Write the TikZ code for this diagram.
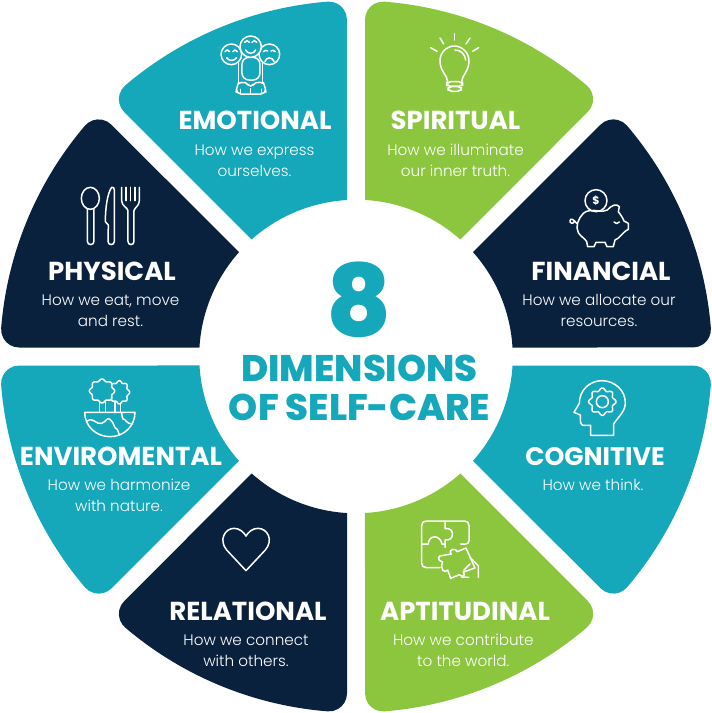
\documentclass[tikz,border=0pt]{standalone}
\usepackage{fontspec}
\newfontfamily\headfont{Poppins Bold}
\newfontfamily\heavyfont{Poppins ExtraBold}
\newfontfamily\bodyfont{Poppins Light}
\definecolor{teal}{HTML}{15A7BA}
\definecolor{leaf}{HTML}{8CC63F}
\definecolor{navy}{HTML}{0A213D}
\tikzset{
  headtext/.style={text=white,anchor=base,inner sep=0pt,font=\headfont\fontsize{26}{26}\selectfont},
  bodytext/.style={text=white,anchor=north,inner sep=0pt,align=center,font=\bodyfont\fontsize{15.2}{21.2}\selectfont},
  centretext/.style={text=teal,anchor=base,inner sep=0pt,font=\heavyfont\fontsize{37}{37}\selectfont},
  iconline/.style={draw=white,line width=1.5pt,line cap=round,line join=round},
  iconzoom/.style={x=0.33333pt,y=-0.33333pt,shift={#1}}
}
\newcommand{\wedgeseg}[2]{%
  \fill[#2,y=1pt,shift={(356pt,-356.5pt)},rotate=#1]
    (9,156.74) -- (9,336.9)
    arc[start angle=180,end angle=85.42,radius=18]
    arc[start angle=85.42,end angle=49.59,radius=356]
    arc[start angle=49.59,end angle=-45,radius=18]
    -- (104.3,117)
    arc[start angle=48.28,end angle=86.71,radius=157] -- cycle;}
\newcommand{\bodylines}[5]{\node[bodytext] (#1) at (#2,#3-12) {\rule{0pt}{12pt}#4\\#5};}
\begin{document}
\begin{tikzpicture}[x=1pt,y=-1pt]
\useasboundingbox (0,0) rectangle (712,713);
\wedgeseg{0}{leaf}
\wedgeseg{-45}{navy}
\wedgeseg{-90}{teal}
\wedgeseg{-135}{leaf}
\wedgeseg{-180}{navy}
\wedgeseg{-225}{teal}
\wedgeseg{-270}{navy}
\wedgeseg{-315}{teal}

% centre
\node[centretext,font=\heavyfont\fontsize{100}{100}\selectfont,text height=70pt,text depth=0pt] (eight) at (359,336) {8};
\node[centretext] (dim) at (359.5,381.7) {DIMENSIONS};
\node[centretext] (care) at (359.5,420) {OF SELF-CARE};

% headings and descriptions
\node[headtext] (h1) at (255,129.8) {EMOTIONAL};
\bodylines{b1}{254.5}{155}{How we express}{ourselves.}
\node[headtext] (h2) at (455.5,129.8) {SPIRITUAL};
\bodylines{b2}{455.5}{155}{How we illuminate}{our inner truth.}
\node[headtext] (h3) at (112,280) {PHYSICAL};
\bodylines{b3}{110.5}{305}{How we eat, move}{and rest.}
\node[headtext] (h4) at (601,280) {FINANCIAL};
\bodylines{b4}{599}{305}{How we allocate our}{resources.}
\node[headtext] (h5) at (121,465) {ENVIROMENTAL};
\bodylines{b5}{119}{490}{How we harmonize}{with nature.}
\node[headtext,font=\headfont\fontsize{25.3}{26}\selectfont] (h6) at (595,465) {COGNITIVE};
\node[bodytext] (b6) at (593,478) {\rule{0pt}{12pt}How we think.};
\node[headtext] (h7) at (465,620) {APTITUDINAL};
\bodylines{b7}{463.3}{645}{How we contribute}{to the world.}
\node[headtext] (h8) at (248,620) {RELATIONAL};
\bodylines{b8}{246}{645}{How we connect}{with others.}

% Emotional icon
\begin{scope}[iconzoom={(110pt,0pt)},iconline]
\draw (364,163) circle[radius=31];
\draw (478,163) circle[radius=31];
\draw (385,190) -- (385,250);
\draw (458,190) -- (458,250);
\filldraw[fill=teal,rounded corners=7pt] (396,172) rectangle (450,240);
\filldraw[fill=teal] (422,140) circle[radius=32];
\draw (404,127) .. controls (408,120) and (414,120) .. (418,127);
\draw (426,127) .. controls (430,120) and (436,120) .. (440,127);
\draw (407,150) .. controls (412,163) and (432,163) .. (437,150);
\draw (345,155) .. controls (349,148) and (355,148) .. (359,155);
\draw (368,155) .. controls (372,148) and (378,148) .. (382,155);
\draw (350,173) .. controls (356,184) and (372,184) .. (380,173);
\draw (460,155) .. controls (465,150) and (470,150) .. (473,153);
\draw (483,153) .. controls (486,150) and (491,150) .. (496,155);
\draw (465,184) .. controls (470,170) and (486,170) .. (492,184);
\draw[rounded corners=5pt] (378,282) -- (380,262) .. controls (384,252) and (395,247) .. (408,243) -- (422,266) -- (436,243) .. controls (450,247) and (462,252) .. (466,262) -- (468,282) -- cycle;
\draw (392,282) -- (392,268);
\draw (455,282) -- (455,268);
\draw (422,266) -- (422,282);
\end{scope}

% Spiritual icon
\begin{scope}[iconzoom={(360pt,0pt)},iconline]
\draw (263,245) .. controls (262,225) and (240,215) .. (240,182)
      .. controls (240,158) and (260,138) .. (283,138)
      .. controls (306,138) and (327,158) .. (327,182)
      .. controls (327,215) and (306,225) .. (305,245);
\draw[rounded corners=4pt] (260,245) rectangle (308,259);
\draw[rounded corners=4pt] (264,259) rectangle (304,274);
\draw (285,150) .. controls (302,150) and (315,162) .. (317,180);
\draw (283,101) -- (283,120);
\draw (240,114) -- (251,132);
\draw (330,114) -- (318,132);
\draw (212,143) -- (231,154);
\draw (356,143) -- (338,154);
\end{scope}

% Physical icon
\begin{scope}[iconzoom={(0pt,-110pt)},iconline]
\draw (271,265) ellipse[x radius=27,y radius=33];
\draw (262,298) -- (262,394) .. controls (262,407) and (282,407) .. (282,394) -- (282,298);
\draw (325,345) -- (316,335) .. controls (316,295) and (322,250) .. (335,232) .. controls (340,230) and (343,234) .. (343,240) -- (343,394) .. controls (343,407) and (324,407) .. (324,394) -- cycle;
\draw (365,232) -- (365,272) .. controls (365,288) and (382,292) .. (384,302) -- (384,394) .. controls (384,407) and (402,407) .. (402,394) -- (402,302) .. controls (404,292) and (418,288) .. (418,272) -- (418,232);
\draw (378,232) -- (378,272) (391,232) -- (391,272) (405,232) -- (405,272);
\end{scope}

% Financial icon
\begin{scope}[iconzoom={(470pt,-110pt)},iconline]
\draw (378,272) circle[radius=33];
\node[text=white,inner sep=0pt,font=\headfont\fontsize{11}{11}\selectfont] (dollar) at (378,272) {\$};
\draw (340,310) .. controls (325,325) and (315,350) .. (325,368)
      .. controls (332,380) and (345,385) .. (350,395)
      -- (353,410) -- (372,410) -- (378,397) -- (405,397) -- (411,410) -- (430,410) -- (435,390)
      .. controls (450,385) and (455,368) .. (475,358) -- (475,340) -- (462,333)
      .. controls (458,322) and (450,312) .. (445,305)
      -- (448,290) .. controls (440,280) and (425,285) .. (412,300)
      .. controls (405,305) and (395,303) .. (385,303) .. controls (370,300) and (350,300) .. (340,310);
\draw (432,336) .. controls (436,342) and (444,342) .. (448,336);
\draw (320,340) .. controls (312,330) and (302,322) .. (300,332) .. controls (298,340) and (310,342) .. (312,336);
\end{scope}

% Cognitive icon
\begin{scope}[iconzoom={(470pt,-360pt)},iconline]
\draw (362,226) -- (362,196) -- (340,196) .. controls (332,196) and (330,185) .. (331,165) -- (312,157) -- (328,130)
      .. controls (328,90) and (360,62) .. (395,62)
      .. controls (435,62) and (466,92) .. (466,128)
      .. controls (466,155) and (445,170) .. (431,192) -- (431,226) -- cycle;
\draw plot[domain=0:360,samples=145,smooth] ({397+(37+4*cos(8*\x))*cos(\x)},{125+(37+4*cos(8*\x))*sin(\x)}) -- cycle;
\draw (397,125) circle[radius=18];
\end{scope}

% Enviromental icon
\begin{scope}[iconzoom={(0pt,-360pt)},iconline]
\draw (254,157) -- (405,157) .. controls (405,198) and (372,230) .. (330,230) .. controls (288,230) and (254,198) .. (254,157);
\draw (262,183) .. controls (280,170) and (288,195) .. (305,190) .. controls (320,185) and (320,170) .. (330,178) .. controls (345,190) and (340,205) .. (352,208) -- (358,224);
\draw (365,160) -- (368,176) .. controls (380,178) and (375,190) .. (398,192);
\draw (345,125) -- (345,157) (362,125) -- (362,157);
\draw[fill=teal] plot[domain=0:360,samples=121,smooth] ({358+(28+3*cos(8*\x))*cos(\x)},{97+(32+3*cos(8*\x))*sin(\x)}) -- cycle;
\draw (298,125) -- (298,157) (316,125) -- (316,157);
\draw[fill=teal] plot[domain=0:360,samples=121,smooth] ({306+(35+3*cos(8*\x))*cos(\x)},{93+(33+3*cos(8*\x))*sin(\x)}) -- cycle;
\end{scope}

% Relational icon
\begin{scope}[iconzoom={(110pt,-470pt)},iconline]
\draw (408,302) -- (350,240) .. controls (325,210) and (345,175) .. (372,175) .. controls (388,175) and (400,185) .. (408,198)
      .. controls (416,185) and (428,175) .. (444,175) .. controls (472,175) and (492,210) .. (466,240) -- cycle;
\end{scope}

% Aptitudinal icon
\begin{scope}[iconzoom={(360pt,-470pt)},iconline]
\draw (240,293) -- (199,293) .. controls (190,293) and (185,288) .. (185,279) -- (185,167) .. controls (185,158) and (190,153) .. (199,153) -- (313,153) .. controls (322,153) and (327,158) .. (327,167) -- (327,212) .. controls (327,219) and (322,222) .. (316,222) -- (302,222);
\draw (255,153) -- (255,176) .. controls (285,170) and (285,215) .. (255,210) -- (255,232);
\draw (185,222) -- (205,222) .. controls (205,195) and (240,192) .. (246,222) -- (255,222);
\draw (250,256) -- (274,252) .. controls (262,238) and (288,232) .. (292,245) -- (318,234) -- (345,294) -- (310,306) .. controls (320,320) and (302,320) .. (298,314) -- (272,325) -- (263,300) .. controls (255,312) and (238,298) .. (248,276) .. controls (230,272) and (232,254) .. (250,256);
\draw (330,262) -- (355,287) -- (355,322);
\draw (312,300) -- (330,282);
\draw (305,321) -- (326,322);
\end{scope}
\end{tikzpicture}
\end{document}
